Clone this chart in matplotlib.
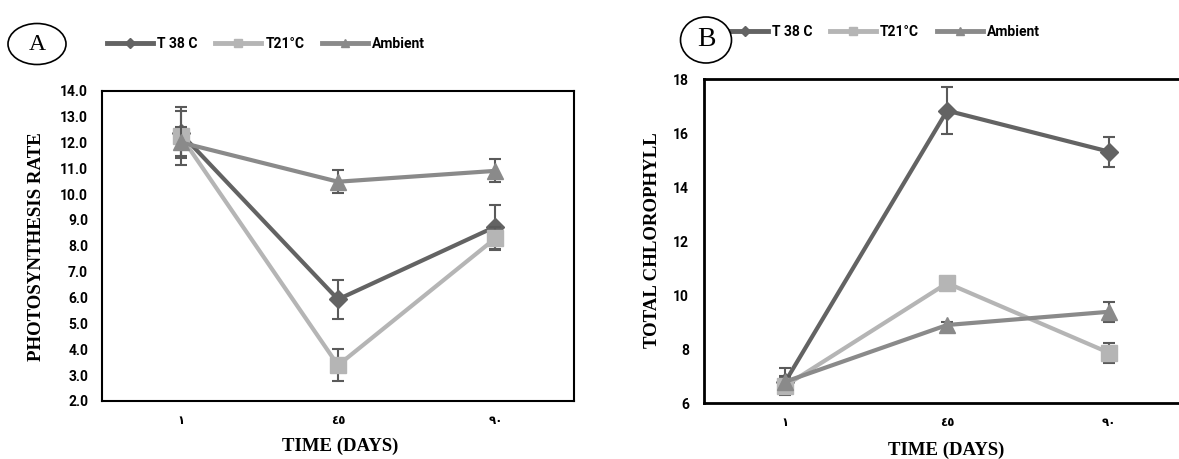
import matplotlib
matplotlib.use("Agg")
import matplotlib.pyplot as plt
from matplotlib.patches import Ellipse
from matplotlib.lines import Line2D

# ---- data ----
days = ['١', '٤٥', '٩٠']
series = ['T 38 C', 'T21°C', 'Ambient']

photo_t38 = [12.35, 5.93, 8.74]
photo_t38_err = [0.88, 0.75, 0.85]
photo_t21 = [12.25, 3.38, 8.29]
photo_t21_err = [1.13, 0.62, 0.45]
photo_amb = [12.0, 10.48, 10.9]
photo_amb_err = [0.6, 0.45, 0.45]

chl_t38 = [6.8, 16.84, 15.32]
chl_t38_err = [0.5, 0.87, 0.55]
chl_t21 = [6.65, 10.45, 7.87]
chl_t21_err = [0.3, 0.1, 0.38]
chl_amb = [6.8, 8.9, 9.39]
chl_amb_err = [0.2, 0.1, 0.38]

colors = ['#636363', '#b5b5b5', '#8a8a8a']
markers = ['D', 's', '^']
msizes = [9, 12, 12]
errc = '#5a5a5a'

W, H = 1179, 459
fig = plt.figure(figsize=(W / 100, H / 100), dpi=100)

tickfont = dict(family=['Roboto', 'DejaVu Sans'], weight='bold', size=10)
arfont = dict(family=['DejaVu Sans'], weight='bold', size=8.5)


def make_axes(rect, data, errs, ylim, yticks, yfmt, spine_w, pad):
    ax = fig.add_axes(rect)
    x = list(range(len(days)))
    for i in range(3):
        ax.plot(x, data[i], color=colors[i], lw=3, marker=markers[i],
                ms=msizes[i], mec=colors[i], mfc=colors[i], zorder=3 + i)
        ax.errorbar(x, data[i], yerr=errs[i], fmt='none', ecolor=errc,
                    elinewidth=1.5, capsize=4, capthick=1.5, zorder=2 + i)
    ax.set_xlim(-0.5, 2.5)
    ax.set_ylim(*ylim)
    ax.set_yticks(yticks)
    ax.set_yticklabels([yfmt.format(v) for v in yticks], **tickfont)
    ax.set_xticks(x)
    ax.set_xticklabels(days, **arfont)
    ax.tick_params(axis='both', length=0)
    ax.tick_params(axis='y', pad=pad)
    ax.tick_params(axis='x', pad=9)
    for s in ax.spines.values():
        s.set_linewidth(spine_w)
        s.set_color('black')
    return ax


# Panel A
axA = make_axes([102 / W, 1 - 401 / H, 472 / W, 310.3 / H],
                [photo_t38, photo_t21, photo_amb],
                [photo_t38_err, photo_t21_err, photo_amb_err],
                (2.0, 14.0), [2 + i for i in range(13)], '{:.1f}', 1.5, 10)

# Panel B
axB = make_axes([704.3 / W, 1 - 403.3 / H, 485.7 / W, 324 / H],
                [chl_t38, chl_t21, chl_amb],
                [chl_t38_err, chl_t21_err, chl_amb_err],
                (6, 18), [6, 8, 10, 12, 14, 16, 18], '{:d}', 2.0, 11)

# axis labels
serif = dict(family=['Liberation Serif', 'DejaVu Serif'], weight='bold')
fig.text(37 / W, 1 - 246.7 / H, 'PHOTOSYNTHESIS RATE', rotation=90,
         ha='center', va='center', size=13.6, **serif)
fig.text(652.7 / W, 1 - 240.5 / H, 'TOTAL CHLOROPHYLL', rotation=90,
         ha='center', va='center', size=13.6, **serif)
fig.text(340 / W, 1 - 446 / H, 'TIME (DAYS)', ha='center', va='center',
         size=13.5, **serif)
fig.text(946.5 / W, 1 - 450 / H, 'TIME (DAYS)', ha='center', va='center',
         size=13.5, **serif)

# legends
def legend_handles(ms):
    return [Line2D([], [], color=colors[i], lw=3.5, marker=markers[i],
                   ms=ms[i], mec=colors[i], mfc=colors[i]) for i in range(3)]

legfont = dict(family=['Roboto', 'DejaVu Sans'], weight='bold', size=10)
fig.legend(legend_handles([5, 6, 6]), series, loc='center',
           bbox_to_anchor=(266 / W, 1 - 44 / H), ncol=3, frameon=False,
           prop=legfont, handlelength=3.3, handletextpad=0.3,
           columnspacing=1.3)
fig.legend(legend_handles([5, 6, 6]), series, loc='center',
           bbox_to_anchor=(881 / W, 1 - 32 / H), ncol=3, frameon=False,
           prop=legfont, handlelength=3.3, handletextpad=0.3,
           columnspacing=1.3)

# panel badges
for (cx, cy, w, h, letter, fs) in [(37, 44, 58, 41, 'A', 17),
                                     (706, 40, 51, 46, 'B', 20)]:
    e = Ellipse((cx / W, 1 - cy / H), w / W, h / H,
                transform=fig.transFigure, fc='white', ec='black', lw=1.2,
                zorder=10)
    fig.add_artist(e)
    fig.text(cx / W, 1 - cy / H, letter, ha='center', va='center',
             size=fs, family=['Liberation Serif', 'DejaVu Serif'], zorder=11)

fig.savefig('out.png', dpi=100)
